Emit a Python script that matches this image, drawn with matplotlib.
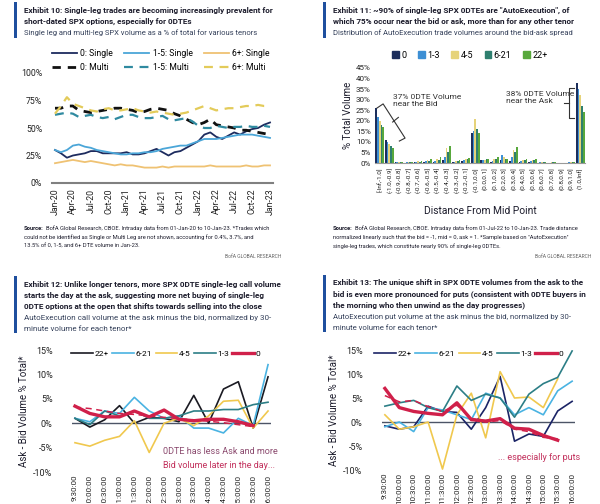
import matplotlib
matplotlib.use('Agg')
import matplotlib.pyplot as plt
from matplotlib.patches import Rectangle, Patch

plt.rcParams['font.family'] = ['Roboto', 'DejaVu Sans']

W, H = 600, 504
BLUE = '#1f4f9e'
TXT = '#1c1c2c'
SUB = '#34405a'

# ---------------- Exhibit 10 data (monthly, Jan-20 .. Jan-23) ----------------
month_labels = ['Jan-20', 'Apr-20', 'Jul-20', 'Oct-20', 'Jan-21', 'Apr-21', 'Jul-21',
                'Oct-21', 'Jan-22', 'Apr-22', 'Jul-22', 'Oct-22', 'Jan-23']
single_0 = [30, 27, 23, 25, 26, 27, 29, 29, 27, 27, 27, 27, 28, 26, 26, 27, 29, 31, 28, 25,
            28, 29, 32, 35, 38, 44, 46, 42, 40, 43, 46, 44, 47, 49, 50, 53, 55]
multi_0 = [68, 68, 70, 70, 66, 65, 64, 65, 66, 67, 68, 68, 67, 66, 64, 65, 67, 68, 67, 66,
           63, 61, 58, 55, 53, 55, 58, 53, 52, 51, 50, 48, 48, 47, 46, 45, 44]
single_15 = [30, 28, 30, 34, 35, 33, 32, 30, 29, 28, 27, 26, 26, 27, 27, 28, 28, 29, 31, 32,
             33, 34, 34, 36, 38, 40, 40, 40, 41, 42, 43, 44, 44, 44, 43, 42, 41]
multi_15 = [62, 63, 64, 63, 60, 61, 62, 60, 59, 60, 58, 60, 62, 62, 60, 59, 59, 60, 61, 58,
            57, 58, 59, 56, 52, 50, 50, 52, 51, 50, 51, 51, 52, 51, 51, 52, 51]
single_6 = [18, 19, 20, 21, 20, 19, 20, 19, 18, 17, 16, 17, 16, 16, 15, 14, 14, 14, 15, 14,
            15, 15, 15, 15, 15, 15, 16, 15, 15, 15, 15, 15, 16, 15, 15, 16, 16]
multi_6 = [63, 70, 78, 72, 70, 68, 66, 65, 67, 68, 66, 66, 67, 68, 66, 65, 64, 65, 64, 63,
           62, 63, 64, 66, 68, 70, 68, 66, 67, 68, 68, 69, 70, 70, 71, 70, 70]

# ---------------- Exhibit 11 data (distance bins) ----------------
bins = ['[-Inf,-1.0]', '(-1.0,-0.9]', '(-0.9,-0.8]', '(-0.8,-0.7]', '(-0.7,-0.6]', '(-0.6,-0.5]',
        '(-0.5,-0.4]', '(-0.4,-0.3]', '(-0.3,-0.2]', '(-0.2,-0.1]', '(-0.1,0.0]', '(0.0,0.1]',
        '(0.1,0.2]', '(0.2,0.3]', '(0.3,0.4]', '(0.4,0.5]', '(0.5,0.6]', '(0.6,0.7]',
        '(0.7,0.8]', '(0.8,0.9]', '(0.9,1.0]', '(1.0,Inf]']
tenors11 = ['0', '1-3', '4-5', '6-21', '22+']
bar_0 = [26, 11, 0.3, 0.2, 0.3, 0.5, 0.5, 1.5, 0.5, 1, 14, 1.5, 0.5, 1.5, 1, 0.5, 0.5, 0.2, 0.1, 0.1, 0.2, 38]
bar_1_3 = [22, 10, 0.5, 0.3, 0.5, 0.8, 1, 3, 0.5, 1.5, 15, 1.5, 1, 4, 3, 1, 1, 0.3, 0.2, 0.1, 0.3, 35]
bar_4_5 = [20, 9, 0.5, 0.5, 0.8, 1.5, 2, 7, 1, 2, 21, 1.5, 2, 3, 6, 1.5, 1.5, 0.5, 0.3, 0.2, 0.3, 32]
bar_6_21 = [18, 8, 0.5, 0.5, 0.5, 1, 1.5, 5, 1, 2, 16, 2, 2, 2, 5, 1.5, 1.5, 0.5, 0.3, 0.2, 0.3, 27]
bar_22 = [17, 7, 0.5, 0.5, 1, 2, 3, 8, 1.5, 2.5, 14, 2, 3, 2, 7.5, 2, 2, 0.5, 0.3, 0.2, 0.3, 24]

# ---------------- Exhibit 12 / 13 data (30-minute buckets) ----------------
times = ['9:30:00', '10:00:00', '10:30:00', '11:00:00', '11:30:00', '12:00:00', '12:30:00',
         '13:00:00', '13:30:00', '14:00:00', '14:30:00', '15:00:00', '15:30:00', '16:00:00']
call_22 = [1.0, -0.8, 0.7, 3.6, 0.0, 1.2, 1.0, 0.3, 5.7, 0.0, 7.0, 8.5, -1.0, 9.5]
call_6_21 = [1.0, 0.3, 2.5, 2.0, 5.3, 2.5, 1.0, 1.5, -1.0, -1.0, -2.0, 1.0, -0.5, 12.0]
call_4_5 = [-4.0, -4.7, -3.5, -2.7, 0.5, -6.0, 0.0, 1.0, -0.5, 1.5, 4.5, 4.7, -1.0, 2.5]
call_1_3 = [1.0, -0.3, 2.5, 1.5, 2.5, 1.0, 1.0, 1.5, 2.5, 2.5, 2.8, 2.8, 3.8, 4.3]
call_0 = [3.5, 2.0, 1.3, 1.3, 2.5, 1.3, 2.7, 0.8, 0.5, 0.8, 0.8, 0.3, -0.5]
call_0_alt = [3.3, 3.0, 2.5, 2.0, 1.8, 1.5, 1.2, 0.9, 0.7, 0.4, 0.1, -0.3, -0.7]

put_22 = [-0.8, -1.5, -1.0, 3.3, 2.2, 2.0, -1.5, 3.0, 9.5, -4.0, -2.5, -3.0, 2.3, 4.3]
put_6_21 = [-1.0, 0.0, -2.0, 3.0, 2.5, 1.5, 0.5, 6.0, 5.0, 1.5, 3.0, 1.5, 6.5, 8.5]
put_4_5 = [1.5, -1.5, -1.0, 0.0, -9.8, 1.5, 6.0, -3.3, 10.5, 5.0, 5.2, 3.0, 9.0]
put_1_3 = [3.3, 4.0, 4.5, 3.0, 2.2, 7.5, 4.5, 5.8, 5.0, 1.0, 5.8, 8.0, 9.3, 14.8]
put_0 = [7.0, 3.0, 2.2, 1.8, 1.5, 4.0, 0.5, 0.2, 0.7, -1.3, -1.5, -2.8, -3.8]
put_0_alt = [5.5, 4.2, 4.5, 3.2, 2.2, 3.5, 0.8, 0.0, 0.3, -1.5, -2.0, -3.2, -3.5]

fig = plt.figure(figsize=(6, 5.04), dpi=100)
renderer = fig.canvas.get_renderer()


def box(l, t, r, b):
    return [l / W, 1 - b / H, (r - l) / W, (b - t) / H]


def ftext(x, y, s, **kw):
    kw.setdefault('va', 'center')
    kw.setdefault('ha', 'left')
    return fig.text(x / W, 1 - y / H, s, **kw)


def fit_size(s, target, weight='normal', base=8.0):
    # font size that makes the string `s` about `target` pixels wide
    t = fig.text(0, 0, s, fontsize=base, fontweight=weight)
    w = t.get_window_extent(renderer).width
    t.remove()
    return base * target / w


def header(x, y0, bold_lines, sub_lines, bold_w, sub_w, step=11.5):
    n = len(bold_lines) + len(sub_lines)
    fig.patches.append(Rectangle(((x - 10) / W, 1 - (y0 + step * n - 7) / H), 3 / W,
                                 (step * n + 1) / H, transform=fig.transFigure,
                                 color=BLUE, lw=0))
    fb = min(fit_size(bold_lines[0], bold_w, 'bold'), 6.8)
    fs = min(fit_size(sub_lines[0], sub_w), 6.8)
    y = y0
    for s in bold_lines:
        ftext(x, y, s, fontsize=fb, fontweight='bold', color=TXT)
        y += step
    for s in sub_lines:
        ftext(x, y, s, fontsize=fs, color=SUB)
        y += step


def source(x, y, lines, width):
    fs = fit_size('Source: ' + lines[0], width)
    t = ftext(x, y, 'Source:', fontsize=fs, fontweight='bold', color=TXT)
    off = t.get_window_extent(renderer).width + 2
    ftext(x + off, y, lines[0], fontsize=fs, color=TXT)
    for i, s in enumerate(lines[1:], start=1):
        ftext(x, y + 9 * i, s, fontsize=fs, color=TXT)


def clean(ax):
    for sp in ['top', 'right', 'left']:
        ax.spines[sp].set_visible(False)
    ax.tick_params(length=0, colors='#222222')


# ================= Exhibit 10 =================
header(24, 10, ['Exhibit 10: Single-leg trades are becoming increasingly prevalent for',
                'short-dated SPX options, especially for 0DTEs'],
       ['Single leg and multi-leg SPX volume as a % of total for various tenors'], 251, 234)

ax1 = fig.add_axes(box(52, 73, 273, 183))
xm = list(range(len(single_0)))
l0s, = ax1.plot(xm, single_0, color='#1d2b5e', lw=1.3, label='0: Single')
l0m, = ax1.plot(xm, multi_0, color='#111111', lw=2, dashes=(3, 2.5), label='0: Multi')
l1s, = ax1.plot(xm, single_15, color='#4ba6d8', lw=1.3, label='1-5: Single')
l1m, = ax1.plot(xm, multi_15, color='#2f8aa0', lw=1.6, dashes=(4, 3), label='1-5: Multi')
l6s, = ax1.plot(xm, single_6, color='#efc273', lw=1.3, label='6+: Single')
l6m, = ax1.plot(xm, multi_6, color='#e3cb5a', lw=1.6, dashes=(4, 3), label='6+: Multi')
ax1.set_xlim(-0.5, 36.5)
ax1.set_ylim(0, 100)
ax1.set_yticks([0, 25, 50, 75, 100])
ax1.set_yticklabels(['0%', '25%', '50%', '75%', '100%'], fontsize=6.3)
ax1.set_xticks(range(0, 37, 3))
ax1.set_xticklabels(month_labels, rotation=90, fontsize=6.3)
clean(ax1)
ax1.tick_params(axis='y', pad=7)
ax1.tick_params(axis='x', pad=4)
ax1.spines['bottom'].set_color('#808080')
ax1.spines['bottom'].set_linewidth(1.5)
ax1.legend(handles=[l0s, l0m, l1s, l1m, l6s, l6m], ncol=3, frameon=False, fontsize=6.2,
           loc='center', bbox_to_anchor=(161 / W, 1 - 60.5 / H), bbox_transform=fig.transFigure,
           handlelength=2.9, handletextpad=0.4, columnspacing=1.3, labelspacing=0.5)

source(24, 228, ['BofA Global Research, CBOE. Intraday data from 01-Jan-20 to 10-Jan-23. *Trades which',
                 'could not be identified as Single or Multi Leg are not shown, accounting for 0.4%, 3.7%, and',
                 '13.5% of 0, 1-5, and 6+ DTE volume in Jan-23.'], 247)
ftext(281, 256, 'BofA GLOBAL RESEARCH', fontsize=3.6, color='#666666', ha='right')

# ================= Exhibit 11 =================
header(333, 10, ['Exhibit 11: ~90% of single-leg SPX 0DTEs are "AutoExecution", of',
                 'which 75% occur near the bid or ask, more than for any other tenor'],
       ['Distribution of AutoExecution trade volumes around the bid-ask spread'], 240, 242)

ax2 = fig.add_axes(box(375, 68, 585, 163))
bar_series = [bar_0, bar_1_3, bar_4_5, bar_6_21, bar_22]
bar_colors = ['#1c2e5c', '#3d8fd4', '#e6d37a', '#2f7f6f', '#58a83c']
xb = list(range(len(bins)))
for k, (vals, c) in enumerate(zip(bar_series, bar_colors)):
    ax2.bar([i - 0.36 + 0.18 * k for i in xb], vals, width=0.18, color=c, lw=0, label=tenors11[k])
ax2.set_xlim(-0.5, len(bins) - 0.5)
ax2.set_ylim(0, 45)
ax2.set_yticks(range(0, 50, 5))
ax2.set_yticklabels([f'{v}%' for v in range(0, 50, 5)], fontsize=5.8)
ax2.set_xticks(xb)
ax2.set_xticklabels(bins, rotation=90, fontsize=4.6)
clean(ax2)
ax2.tick_params(axis='y', pad=3)
ax2.tick_params(axis='x', pad=3)
ax2.spines['bottom'].set_color('#9a9a9a')
ax2.set_ylabel('% Total Volume', fontsize=7, labelpad=2, color=TXT)
ax2.legend(handles=[Patch(color=c, label=t) for c, t in zip(bar_colors, tenors11)], ncol=5,
           frameon=False, fontsize=6.5, loc='center',
           bbox_to_anchor=(470 / W, 1 - 55 / H), bbox_transform=fig.transFigure,
           handlelength=0.7, handleheight=0.7, handletextpad=0.3, columnspacing=1.3)
ftext(480, 211, 'Distance From Mid Point', fontsize=7.4, color=TXT, ha='center')

# bracket annotations
ax2.plot([-0.3, 0.35, 2.65, 2.05], [26, 28, 11.8, 10.4], color='#333333', lw=0.8, clip_on=False)
ax2.plot([1.35, 1.95], [19.4, 21.6], color='#333333', lw=0.8)
ax2.text(1.4, 29.5, '37% 0DTE Volume\nnear the Bid', fontsize=6, color='#333333',
         va='center', linespacing=1.3)
ax2.plot([20.3, 19.8, 19.8, 20.3], [35.5, 35.5, 21.3, 21.3], color='#333333', lw=0.8)
ax2.plot([19.8, 19.35], [28.4, 28.4], color='#333333', lw=0.8)
ax2.text(13.2, 31.0, '38% 0DTE Volume\nnear the Ask', fontsize=6, color='#333333',
         va='center', linespacing=1.3)

source(333, 228, ['BofA Global Research, CBOE. Intraday data from 01-Jul-22 to 10-Jan-23. Trade distance',
                  'normalized linearly such that the bid = -1, mid = 0, ask = 1. *Sample based on "AutoExecution"',
                  'single-leg trades, which constitute nearly 90% of single-leg 0DTEs.'], 245)
ftext(591, 256, 'BofA GLOBAL RESEARCH', fontsize=3.6, color='#666666', ha='right')


# ================= Exhibits 12 / 13 =================
def intraday(rect, s22, s6, s4, s1, s0, s0b, c22, legend_cx, note, note_xy, note_color):
    ax = fig.add_axes(box(*rect))
    ax.axhline(0, color='#4c5466', lw=1)
    h22, = ax.plot(range(len(s22)), s22, color=c22, lw=1.2, label='22+')
    h6, = ax.plot(range(len(s6)), s6, color='#4ab3e2', lw=1.2, label='6-21')
    h4, = ax.plot(range(len(s4)), s4, color='#f0c84e', lw=1.2, label='4-5')
    h1, = ax.plot(range(len(s1)), s1, color='#2c7e86', lw=1.2, label='1-3')
    ax.plot(range(len(s0b)), s0b, color='#d0204a', lw=1.1, dashes=(4, 3))
    h0, = ax.plot(range(len(s0)), s0, color='#d0204a', lw=2.4, label='0')
    ax.set_xlim(-0.2, 13.2)
    ax.set_ylim(-10, 15)
    ax.set_yticks(range(-10, 20, 5))
    ax.set_yticklabels([f'{v}%' for v in range(-10, 20, 5)], fontsize=6.5)
    ax.set_xticks(range(len(times)))
    ax.set_xticklabels(times, rotation=90, fontsize=5.8)
    clean(ax)
    ax.spines['bottom'].set_visible(False)
    ax.tick_params(axis='y', pad=14)
    ax.tick_params(axis='x', pad=2)
    ax.set_ylabel('Ask - Bid Volume % Total*', fontsize=7, color=TXT, labelpad=3)
    ax.legend(handles=[h22, h6, h4, h1, h0], ncol=5, frameon=False, fontsize=6.0, loc='center',
              bbox_to_anchor=(legend_cx / W, 1 - 354 / H), bbox_transform=fig.transFigure,
              handlelength=2.6, handletextpad=0.2, columnspacing=0.4)
    for i, (s, c) in enumerate(zip(note, note_color)):
        ftext(note_xy[0], note_xy[1] + 13 * i, s, fontsize=6.5, color=c)
    return ax


header(24, 284, ['Exhibit 12: Unlike longer tenors, more SPX 0DTE single-leg call volume',
                 'starts the day at the ask, suggesting more net buying of single-leg',
                 '0DTE options at the open that shifts towards selling into the close'],
       ['AutoExecution call volume at the ask minus the bid, normalized by 30-',
        'minute volume for each tenor*'], 260, 250, step=11.2)
intraday((72, 350, 271, 472), call_22, call_6_21, call_4_5, call_1_3, call_0, call_0_alt,
         '#1a1a22', 166, ['0DTE has less Ask and more', 'Bid volume later in the day...'],
         (163, 452), ['#8b4a6e', '#c2305c'])

header(333, 283, ['Exhibit 13: The unique shift in SPX 0DTE volumes from the ask to the',
                  'bid is even more pronounced for puts (consistent with 0DTE buyers in',
                  'the morning who then unwind as the day progresses)'],
       ['AutoExecution put volume at the ask minus the bid, normalized by 30-',
        'minute volume for each tenor*'], 251, 239, step=11.2)
intraday((382, 350, 575, 470), put_22, put_6_21, put_4_5, put_1_3, put_0, put_0_alt,
         '#1b2466', 469, ['... especially for puts'], (498, 457), ['#c2305c'])

fig.savefig('out.png', dpi=100)
